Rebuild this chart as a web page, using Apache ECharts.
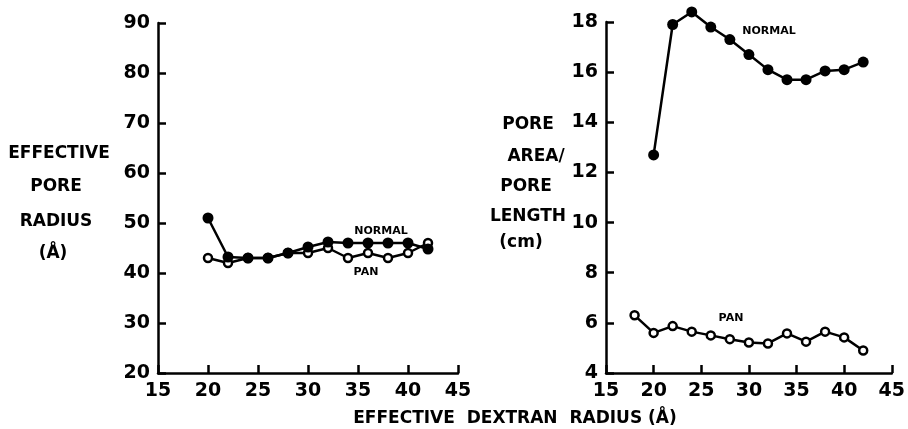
<!DOCTYPE html>
<html>
<head>
<meta charset="utf-8">
<script src="https://cdn.jsdelivr.net/npm/echarts@6/dist/echarts.min.js"></script>
<style>
html,body{margin:0;padding:0;background:#fff;}
#c{width:908px;height:429px;}
</style>
</head>
<body>
<div id="c"></div>
<script>
// Dextran radius (Å)
const xRadius = [20, 22, 24, 26, 28, 30, 32, 34, 36, 38, 40, 42];
// Left panel: effective pore radius (Å)
const radiusNormal = [51, 43.2, 43, 43, 44, 45.2, 46.2, 46, 46, 46, 46, 44.8];
const radiusPan = [43, 42, 43, 43, 44, 44, 45, 43, 44, 43, 44, 46];
// Right panel: pore area / pore length (cm)
const areaNormalX = [20, 22, 24, 26, 28, 30, 32, 34, 36, 38, 40, 42];
const areaNormal = [12.7, 17.9, 18.4, 17.8, 17.3, 16.7, 16.1, 15.7, 15.7, 16.05, 16.1, 16.4];
const areaPanX = [18, 20, 22, 24, 26, 28, 30, 32, 34, 36, 38, 40, 42];
const areaPan = [6.3, 5.6, 5.87, 5.65, 5.5, 5.35, 5.22, 5.18, 5.58, 5.25, 5.65, 5.42, 4.9];
// Tick settings
const xTicks = {min: 15, max: 45, interval: 5};
const yLeftTicks = {min: 20, max: 90, interval: 10};
const yRightTicks = {min: 4, max: 18, interval: 2};

const FONT = 'DejaVu Sans';
const zip = (xs, ys) => xs.map((x, i) => [x, ys[i]]);

const axisLine = {show: true, onZero: false, lineStyle: {color: '#000', width: 2.5}};
const axisTick = {show: true, inside: true, length: 8, lineStyle: {color: '#000', width: 2.5}};
const labelStyle = {color: '#000', fontFamily: FONT, fontWeight: 'bold', fontSize: 19};

function xAxis(gi) {
  return {type: 'value', gridIndex: gi, min: xTicks.min, max: xTicks.max, interval: xTicks.interval,
    axisLine, axisTick, splitLine: {show: false},
    axisLabel: Object.assign({margin: 9}, labelStyle)};
}
function yAxis(gi, t) {
  return {type: 'value', gridIndex: gi, min: t.min, max: t.max, interval: t.interval,
    axisLine, axisTick, splitLine: {show: false},
    axisLabel: Object.assign({margin: 8}, labelStyle)};
}
const filled = {symbol: 'circle', symbolSize: 11, itemStyle: {color: '#000', borderColor: '#000', borderWidth: 0}};
const open = {symbol: 'circle', symbolSize: 8, itemStyle: {color: '#fff', borderColor: '#000', borderWidth: 2.5}};
function line(name, gi, data, sty) {
  return Object.assign({type: 'line', name, xAxisIndex: gi, yAxisIndex: gi, data, clip: false,
    showAllSymbol: true, animation: false, silent: true,
    lineStyle: {color: '#000', width: 2.5}}, sty);
}
function t(text, cx, cy, size) {
  return {type: 'text', x: cx, y: cy, style: {text, align: 'center', verticalAlign: 'middle',
    fill: '#000', fontFamily: FONT, fontWeight: 'bold', fontSize: size}};
}

const chart = echarts.init(document.getElementById('c'), null, {renderer: 'canvas'});
chart.setOption({
  backgroundColor: '#fff',
  animation: false,
  grid: [
    {left: 158, right: 450, top: 23, bottom: 56},
    {left: 606, right: 9, top: 22, bottom: 56}
  ],
  xAxis: [xAxis(0), xAxis(1)],
  yAxis: [yAxis(0, yLeftTicks), yAxis(1, yRightTicks)],
  series: [
    line('PAN', 0, zip(xRadius, radiusPan), open),
    line('NORMAL', 0, zip(xRadius, radiusNormal), filled),
    line('NORMAL', 1, zip(areaNormalX, areaNormal), filled),
    line('PAN', 1, zip(areaPanX, areaPan), open)
  ],
  graphic: [
    t('EFFECTIVE', 59, 154, 17),
    t('PORE', 56, 187, 17),
    t('RADIUS', 56, 222, 17),
    t('(Å)', 53, 254, 17),
    t('PORE', 528, 125, 17),
    t('AREA/', 536, 157, 17),
    t('PORE', 526, 187, 17),
    t('LENGTH', 528, 217, 17),
    t('(cm)', 521, 243, 17),
    t('NORMAL', 381, 231, 11),
    t('PAN', 366, 272, 11),
    t('NORMAL', 769, 31, 11),
    t('PAN', 731, 318, 11),
    t('EFFECTIVE  DEXTRAN  RADIUS (Å)', 515, 419, 17)
  ]
});
</script>
</body>
</html>
